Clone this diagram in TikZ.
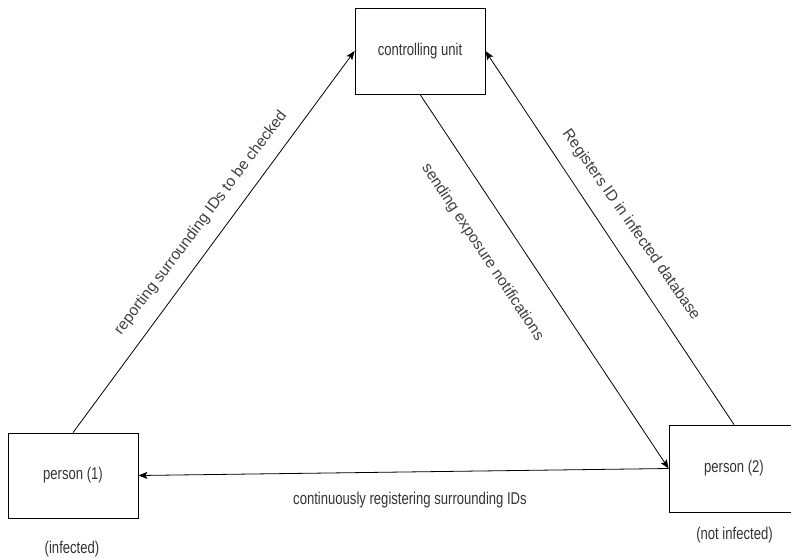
\documentclass[tikz,border=0pt]{standalone}
\usepackage{fontspec}
\setmainfont{Liberation Sans}
\newfontfamily\narrowsans{Liberation Sans}[FakeStretch=0.77]
\usetikzlibrary{arrows.meta}

\begin{document}
\begin{tikzpicture}[x=1pt, y=-1pt,
    box/.style={draw, line width=0.8pt, minimum width=130pt, inner sep=0pt,
      font=\narrowsans\fontsize{17}{20}\selectfont, text=black!80},
    txt/.style={inner sep=0pt, font=\narrowsans\fontsize{17}{20}\selectfont, text=black!80},
    slp/.style={inner sep=0pt, font=\fontsize{15.5}{18}\selectfont, text=black!75},
    arr/.style={-{Stealth[length=9pt,width=7pt,inset=2pt]}, line width=0.8pt}]
  \useasboundingbox (0,0) rectangle (791,557);

        % boxes
        \node[box, minimum height=86pt] (cu)at(420,51) {controlling unit};
        \node[box, minimum height=85pt] (p1)at(73,475.5) {person (1)};
        \node[box, minimum height=87pt] (p2)at(734,468.5) {person (2)};

        \node[txt] (s1)at(72,549) {(infected)};
        \node[txt] (s2)at(734.5,535) {(not infected)};

        % connectors
        \draw[arr] (p1.north) -- (cu.west);
        \draw[arr] (cu.south) -- (p2.west);
        \draw[arr] (p2.north) -- (cu.east);
        \draw[arr] (p2.west) -- (p1.east);

        % labels
        \node[slp, rotate=53] (l1)at(201,223) {reporting surrounding IDs to be checked};
        \node[slp, rotate=-56.5] (l2)at(482.5,252.5) {sending exposure notifications};
        \node[slp, rotate=-55] (l3)at(631,225) {Registers ID in infected database};
        \node[txt] (l4)at(410,500) {continuously registering surrounding IDs};

\end{tikzpicture}
\end{document}
